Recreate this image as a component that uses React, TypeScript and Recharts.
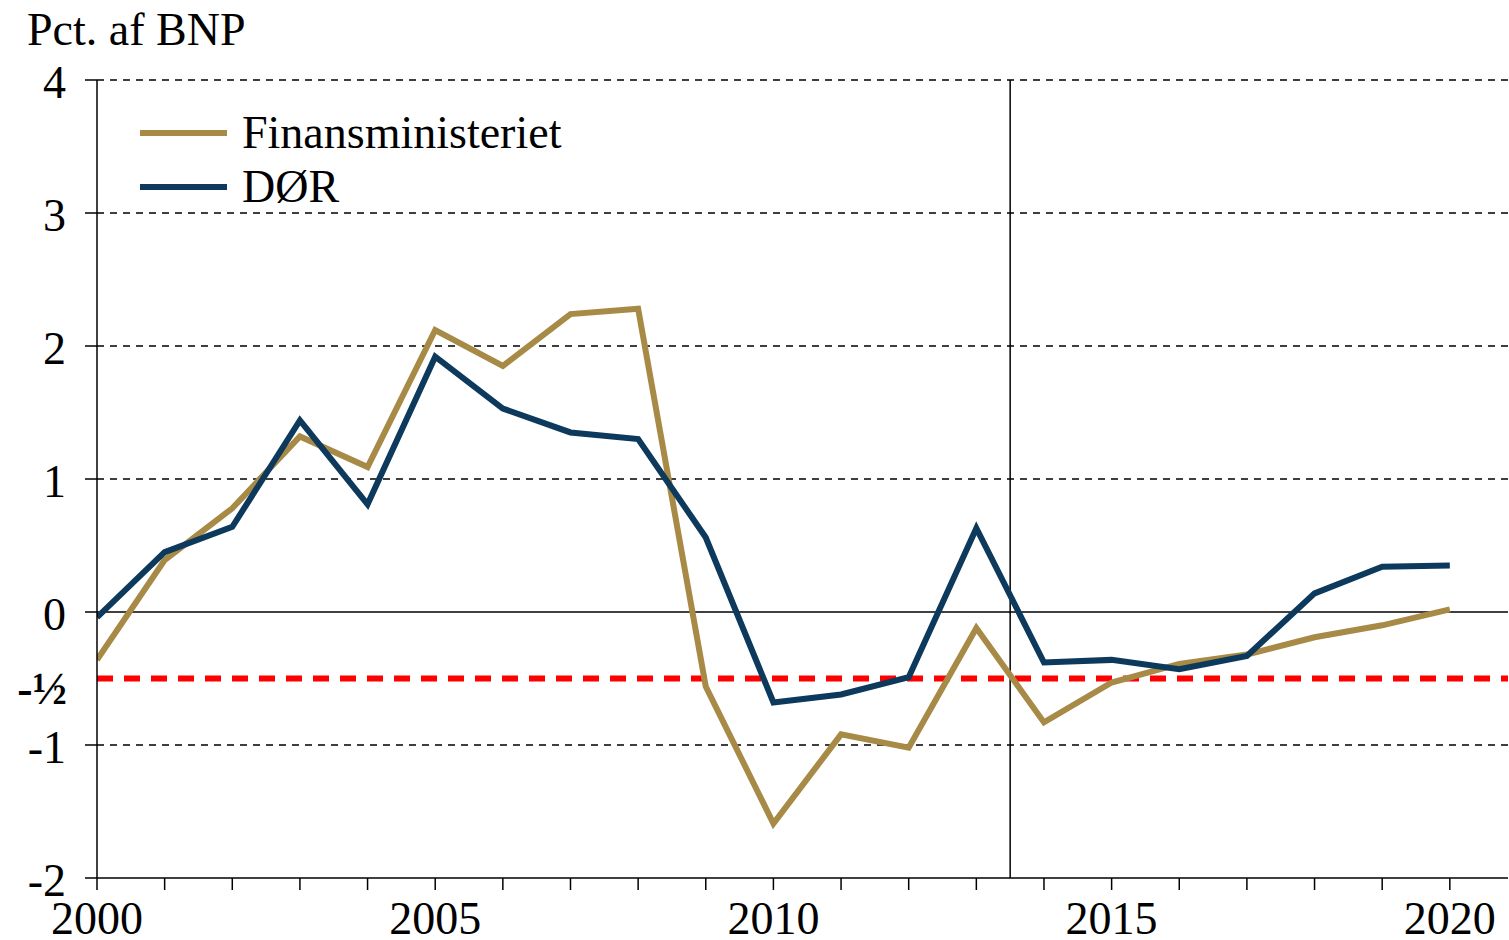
import React from "react";
import {
  LineChart,
  Line,
  XAxis,
  YAxis,
  ReferenceLine
} from "recharts";

const years = [2000, 2001, 2002, 2003, 2004, 2005, 2006, 2007, 2008, 2009, 2010, 2011, 2012, 2013, 2014, 2015, 2016, 2017, 2018, 2019, 2020];

const finansministeriet = [-0.36, 0.39, 0.78, 1.32, 1.09, 2.12, 1.85, 2.24, 2.28, -0.56, -1.59, -0.92, -1.02, -0.12, -0.83, -0.53, -0.39, -0.32, -0.19, -0.1, 0.02];

const dor = [-0.04, 0.45, 0.64, 1.44, 0.81, 1.92, 1.53, 1.35, 1.3, 0.56, -0.68, -0.62, -0.49, 0.63, -0.38, -0.36, -0.43, -0.33, 0.14, 0.34, 0.35];

const yTicks = [-2, -1, 0, 1, 2, 3, 4];
const gridValues = [4, 3, 2, 1, -1];
const xLabelYears = [2000, 2005, 2010, 2015, 2020];
const targetLevel = -0.5;
const splitYear = 2013.5;

const data = years.map((year, i) => ({
  year,
  fm: finansministeriet[i],
  dor: dor[i]
}));

const FONT = '"Liberation Serif", "Times New Roman", serif';

const GOLD = "#A88A47";
const NAVY = "#0D3A5C";

const series = [
  { key: "fm", name: "Finansministeriet", color: GOLD },
  { key: "dor", name: "DØR", color: NAVY }
];

function XTick(props: any) {
  const { x, y, payload } = props;
  if (!xLabelYears.includes(payload.value)) return null;
  return (
    <text x={x} y={y} dy="0.71em" textAnchor="middle" fontSize={46} fontFamily={FONT} fill="#000">
      {payload.value}
    </text>
  );
}

function YTick(props: any) {
  const { x, y, payload } = props;
  return (
    <text x={x} y={y} dy="0.4em" textAnchor="end" fontSize={46} fontFamily={FONT} fill="#000">
      {payload.value}
    </text>
  );
}

function HalfLabel(props: any) {
  const vb = props.viewBox || {};
  return (
    <text x={vb.x - 30} y={vb.y} dy="0.55em" textAnchor="end" fontSize={46} fontWeight="bold" fontFamily={FONT} fill="#000">
      -½
    </text>
  );
}

export default function App() {
  return (
    <div style={{ position: "absolute", left: 0, top: 0, width: 1509, height: 940, background: "#fff" }}>
      <div style={{ position: "absolute", left: 27, top: 7, fontFamily: FONT, fontSize: 46, lineHeight: "46px", color: "#000" }}>
        Pct. af BNP
      </div>
      <LineChart width={1509} height={940} data={data} margin={{ top: 80, right: 1, left: 0, bottom: 0 }}>
        <XAxis
          dataKey="year"
          type="number"
          domain={[2000, 2020.86]}
          ticks={years}
          interval={0}
          height={62}
          tick={<XTick />}
          tickSize={12}
          tickMargin={11}
          axisLine={{ stroke: "#000", strokeWidth: 1.5 }}
          tickLine={{ stroke: "#000", strokeWidth: 1.5 }}
          allowDataOverflow
        />
        <YAxis
          type="number"
          domain={[-2, 4]}
          ticks={yTicks}
          interval={0}
          width={97}
          tick={<YTick />}
          tickSize={12}
          tickMargin={19}
          axisLine={{ stroke: "#000", strokeWidth: 1.5 }}
          tickLine={{ stroke: "#000", strokeWidth: 1.5 }}
        />
        {gridValues.map((v) => (
          <ReferenceLine key={v} y={v} stroke="#000" strokeWidth={1.5} strokeDasharray="7 6" />
        ))}
        <ReferenceLine y={0} stroke="#000" strokeWidth={1.5} />
        <ReferenceLine x={splitYear} stroke="#000" strokeWidth={1.5} />
        <ReferenceLine
          y={targetLevel}
          stroke="#FF0000"
          strokeWidth={6}
          strokeDasharray="16 11"
          label={(p: any) => <HalfLabel {...p} />}
        />
        {series.map((s) => (
          <Line
            key={s.key}
            dataKey={s.key}
            name={s.name}
            stroke={s.color}
            strokeWidth={6}
            dot={false}
            type="linear"
            isAnimationActive={false}
          />
        ))}
      </LineChart>
      <div style={{ position: "absolute", left: 140, top: 106, fontFamily: FONT, fontSize: 46, lineHeight: "54px", color: "#000" }}>
        {series.map((s) => (
          <div key={s.key} style={{ display: "flex", alignItems: "center", height: 54 }}>
            <div style={{ width: 87, height: 6, background: s.color }} />
            <span style={{ marginLeft: 15 }}>{s.name}</span>
          </div>
        ))}
      </div>
    </div>
  );
}
